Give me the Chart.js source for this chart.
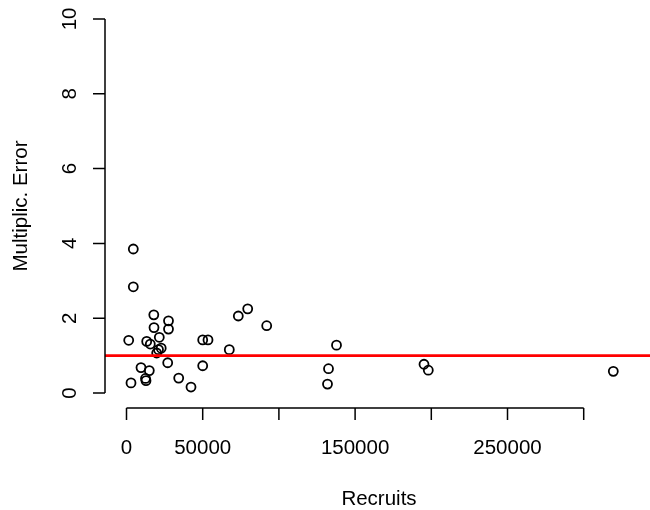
<!DOCTYPE html>
<html>
<head>
<meta charset="utf-8">
<script src="https://cdn.jsdelivr.net/npm/chart.js@4/dist/chart.umd.min.js"></script>
<style>
  html, body { margin: 0; padding: 0; background: #ffffff; }
  #wrap { width: 650px; height: 510px; }
</style>
</head>
<body>
<div id="wrap"><canvas id="chart" width="650" height="510"></canvas></div>
<script>
// Recruits against multiplicative error, one point per stock
const recruits = [4462, 4462, 17913, 27559, 18045, 27559, 1444, 21522, 13255, 15617,
                  22769, 20997, 19816, 50000, 53478, 67454, 9514, 14961, 27034, 50000,
                  2953, 12467, 12795, 34252, 42323, 73360, 79528, 91995, 137795, 132546,
                  131890, 195210, 198031, 319423];
const multiplicError = [3.85, 2.84, 2.09, 1.93, 1.75, 1.71, 1.41, 1.49, 1.38, 1.31,
                        1.20, 1.16, 1.07, 1.42, 1.42, 1.16, 0.68, 0.60, 0.81, 0.73,
                        0.27, 0.39, 0.33, 0.40, 0.16, 2.06, 2.25, 1.80, 1.28, 0.65,
                        0.24, 0.77, 0.61, 0.58];

// Axis ticks and labels (unlabelled ticks have an empty string)
const xTicks = [0, 50000, 100000, 150000, 200000, 250000, 300000];
const xTickLabels = ["0", "50000", "", "150000", "", "250000", ""];
const yTicks = [0, 2, 4, 6, 8, 10];
const yTickLabels = ["0", "2", "4", "6", "8", "10"];

// Horizontal reference level
const referenceLevel = 1;

const xTitle = "Recruits";
const yTitle = "Multiplic. Error";

const FONT = '20.5px "Liberation Sans", Arial, Helvetica, sans-serif';
const TICK_LEN = 12;

const points = recruits.map((x, i) => ({ x: x, y: multiplicError[i] }));

// Base-graphics style axes: line only between first and last tick
const baseAxes = {
  id: 'baseAxes',
  afterDraw(chart) {
    const ctx = chart.ctx;
    const xs = chart.scales.x, ys = chart.scales.y;
    const area = chart.chartArea;
    ctx.save();
    ctx.strokeStyle = '#000000';
    ctx.fillStyle = '#000000';
    ctx.lineWidth = 1.5;
    ctx.font = FONT;

    // x axis
    const xb = area.bottom;
    const x0 = xs.getPixelForValue(xTicks[0]);
    const x1 = xs.getPixelForValue(xTicks[xTicks.length - 1]);
    ctx.beginPath();
    ctx.moveTo(x0, xb); ctx.lineTo(x1, xb);
    xTicks.forEach(v => {
      const p = xs.getPixelForValue(v);
      ctx.moveTo(p, xb); ctx.lineTo(p, xb + TICK_LEN);
    });
    ctx.stroke();
    ctx.textAlign = 'center';
    ctx.textBaseline = 'alphabetic';
    xTicks.forEach((v, i) => {
      if (xTickLabels[i]) ctx.fillText(xTickLabels[i], xs.getPixelForValue(v), 454);
    });
    ctx.fillText(xTitle, 379, 505);

    // y axis
    const yl = area.left;
    const y0 = ys.getPixelForValue(yTicks[0]);
    const y1 = ys.getPixelForValue(yTicks[yTicks.length - 1]);
    ctx.beginPath();
    ctx.moveTo(yl, y0); ctx.lineTo(yl, y1);
    yTicks.forEach(v => {
      const p = ys.getPixelForValue(v);
      ctx.moveTo(yl, p); ctx.lineTo(yl - TICK_LEN, p);
    });
    ctx.stroke();
    yTicks.forEach((v, i) => {
      ctx.save();
      ctx.translate(76, ys.getPixelForValue(v));
      ctx.rotate(-Math.PI / 2);
      ctx.fillText(yTickLabels[i], 0, 0);
      ctx.restore();
    });
    ctx.save();
    ctx.translate(27, (area.top + area.bottom) / 2);
    ctx.rotate(-Math.PI / 2);
    ctx.fillText(yTitle, 0, 0);
    ctx.restore();
    ctx.restore();
  }
};

// Red horizontal line at the reference level, across the plot region
const refLine = {
  id: 'refLine',
  afterDatasetsDraw(chart) {
    const ctx = chart.ctx;
    const area = chart.chartArea;
    const y = chart.scales.y.getPixelForValue(referenceLevel);
    ctx.save();
    ctx.strokeStyle = '#ff0000';
    ctx.lineWidth = 2.6;
    ctx.beginPath();
    ctx.moveTo(area.left, y);
    ctx.lineTo(area.right, y);
    ctx.stroke();
    ctx.restore();
  }
};

new Chart(document.getElementById('chart'), {
  type: 'scatter',
  data: {
    datasets: [{
      data: points,
      pointStyle: 'circle',
      pointRadius: 4.5,
      pointHoverRadius: 4.5,
      pointBorderWidth: 1.8,
      pointBorderColor: '#000000',
      pointBackgroundColor: 'rgba(0,0,0,0)',
      showLine: false,
      clip: false
    }]
  },
  options: {
    responsive: false,
    animation: false,
    events: [],
    layout: { autoPadding: false, padding: { left: 105, right: 0, top: 4, bottom: 102 } },
    plugins: {
      legend: { display: false },
      tooltip: { enabled: false }
    },
    scales: {
      x: { type: 'linear', display: false, min: -14108, max: 343500 },
      y: { type: 'linear', display: false, min: -0.4, max: 10.4 }
    }
  },
  plugins: [baseAxes, refLine]
});
</script>
</body>
</html>
